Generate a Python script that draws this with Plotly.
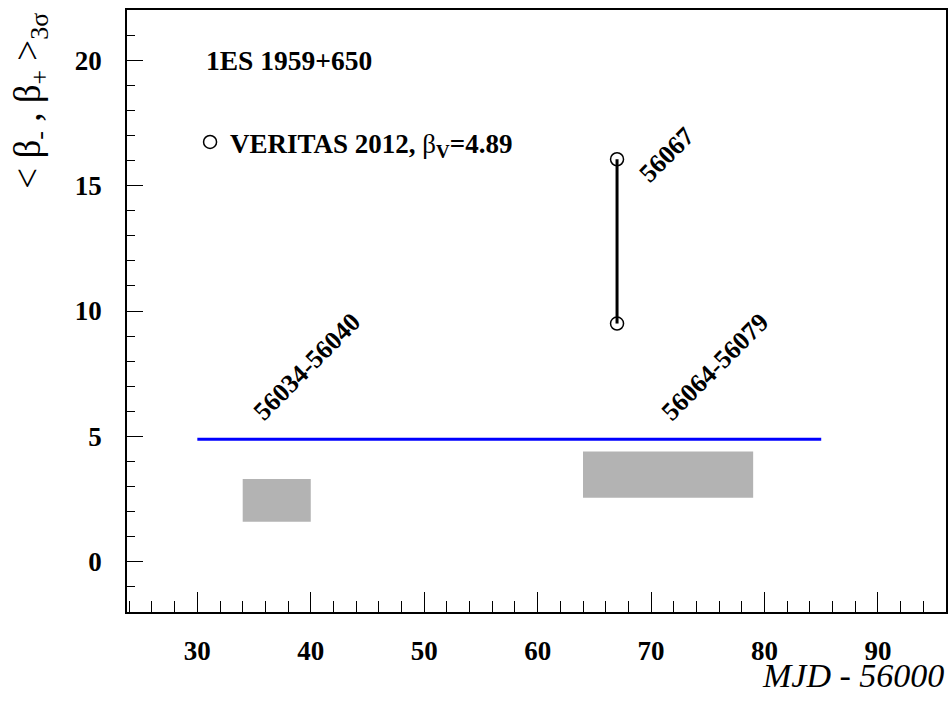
import plotly.graph_objects as go

# ---- data ----
source_name = "1ES 1959+650"
veritas_x = [67, 67]
veritas_y = [16.05, 9.5]
beta_v = 4.89
beta_v_xrange = [30, 85]
box_x0 = [34, 64]
box_x1 = [40, 79]
box_y0 = [1.6, 2.55]
box_y1 = [3.3, 4.4]
period_labels = ["56034-56040", "56064-56079", "56067"]
period_label_x = [39.7, 75.7, 71.4]
period_label_y = [7.77, 7.77, 16.25]
x_ticks = [30, 40, 50, 60, 70, 80, 90]
y_ticks = [0, 5, 10, 15, 20]

SERIF = "Liberation Serif"
fig = go.Figure()

# gray boxes
for x0, x1, y0, y1 in zip(box_x0, box_x1, box_y0, box_y1):
    fig.add_trace(go.Scatter(x=[x0, x1, x1, x0, x0], y=[y0, y0, y1, y1, y0],
                             mode="lines", fill="toself", fillcolor="#b3b3b3",
                             line=dict(width=0, color="#b3b3b3"), showlegend=False,
                             hoverinfo="skip"))

# blue line at beta_V
fig.add_trace(go.Scatter(x=beta_v_xrange, y=[beta_v, beta_v], mode="lines",
                         line=dict(color="#0000ff", width=3), showlegend=False))

# VERITAS vertical segment
fig.add_trace(go.Scatter(x=veritas_x, y=veritas_y, mode="lines+markers",
                         line=dict(color="black", width=3),
                         marker=dict(symbol="circle-open", size=13, color="black",
                                     line=dict(width=1.5, color="black")),
                         showlegend=False))

# legend entry
fig.add_trace(go.Scatter(x=[None], y=[None], mode="markers",
                         marker=dict(symbol="circle-open", size=13, color="black",
                                     line=dict(width=1.5, color="black")),
                         name="<b>VERITAS 2012, </b>β<sub><b>V</b></sub><b>=%.2f</b>" % beta_v,
                         showlegend=True))

annotations = []
for txt, ax, ay in zip(period_labels, period_label_x, period_label_y):
    annotations.append(dict(x=ax, y=ay, xref="x", yref="y", text="<b>%s</b>" % txt,
                            textangle=-45, showarrow=False,
                            font=dict(family=SERIF, size=26, color="black")))
annotations.append(dict(x=30.6, y=20, xref="x", yref="y", text="<b>%s</b>" % source_name,
                        xanchor="left", showarrow=False,
                        font=dict(family=SERIF, size=27.5, color="black")))
annotations.append(dict(x=1.0, y=-0.106, xref="paper", yref="paper", text="<i>MJD - 56000</i>",
                        xanchor="right", yanchor="middle", showarrow=False,
                        font=dict(family=SERIF, size=34, color="black")))
annotations.append(dict(x=-0.118, y=0.85, xref="paper", yref="paper",
                        text="< β<sub>-</sub> , β<sub>+</sub> ><sub>3σ</sub>",
                        textangle=-90, xanchor="center", yanchor="middle", showarrow=False,
                        font=dict(family=SERIF, size=37, color="black")))

fig.update_layout(
    width=950, height=704,
    margin=dict(l=127, r=2, t=10, b=92),
    paper_bgcolor="white", plot_bgcolor="white",
    annotations=annotations,
    legend=dict(x=0.077, y=0.78, xanchor="left", yanchor="middle",
                bgcolor="rgba(0,0,0,0)", borderwidth=0,
                font=dict(family=SERIF, size=27, color="black")),
    xaxis=dict(range=[23.8, 96], tickvals=x_ticks, ticks="inside", ticklen=20, tickwidth=1,
               tickcolor="black", showline=True, linecolor="black", linewidth=1.5, mirror=True,
               showgrid=False, zeroline=False, ticklabelstandoff=14,
               minor=dict(dtick=2, ticks="inside", ticklen=11, tickcolor="black", tickwidth=1),
               tickfont=dict(family=SERIF, size=27, color="black", weight="bold")),
    yaxis=dict(range=[-2, 22], tickvals=y_ticks, ticks="inside", ticklen=16, tickwidth=1,
               tickcolor="black", showline=True, linecolor="black", linewidth=1.5, mirror=True,
               showgrid=False, zeroline=False, ticklabelstandoff=18,
               minor=dict(dtick=1, ticks="inside", ticklen=8, tickcolor="black", tickwidth=1),
               tickfont=dict(family=SERIF, size=27, color="black", weight="bold")),
)

fig.write_html("out.html", config={"displayModeBar": False},
               post_script="document.body.style.margin='0';document.body.style.overflow='hidden';")
